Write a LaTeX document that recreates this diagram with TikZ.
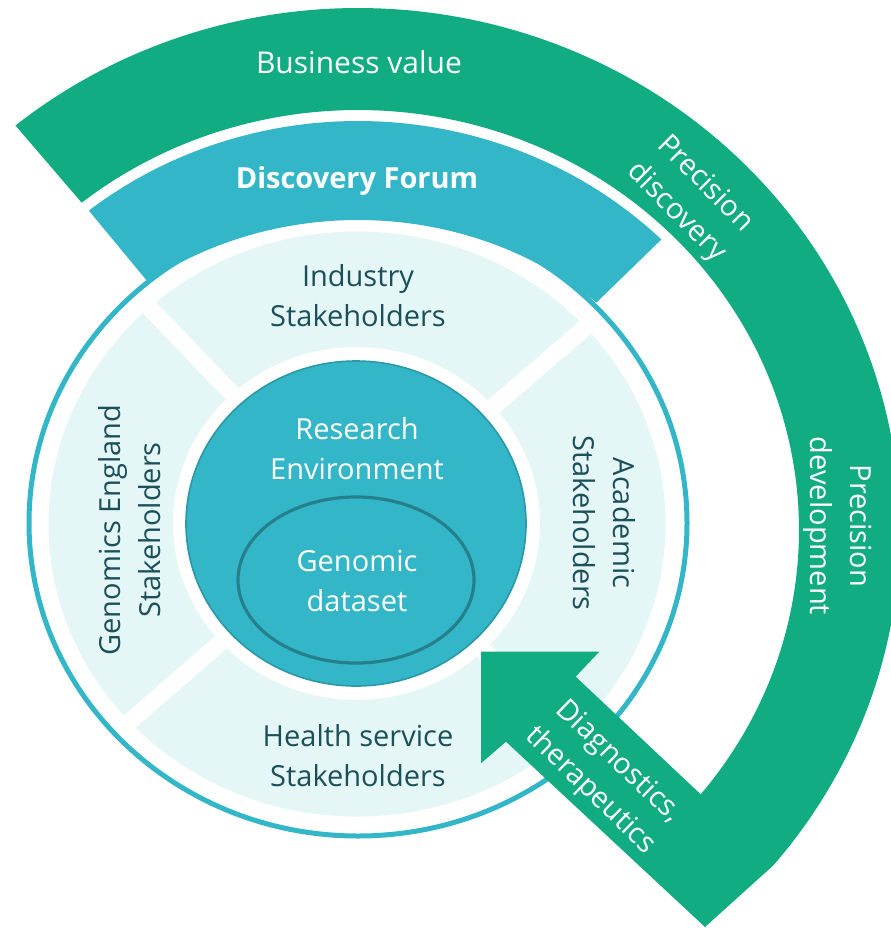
\documentclass[tikz,border=0pt]{standalone}
\usepackage{fontspec}
\setmainfont{Open Sans}
\usetikzlibrary{calc}

\definecolor{gegreen}{RGB}{17,172,130}
\definecolor{gecyan}{RGB}{51,182,199}
\definecolor{gelight}{RGB}{229,246,247}
\definecolor{gedark}{RGB}{27,80,90}
\definecolor{gerim}{RGB}{38,128,140}

\begin{document}
\begin{tikzpicture}[x=0.75pt,y=-0.75pt,
  lbl/.style={font=\fontsize{21.75}{30}\selectfont, align=center, inner sep=0pt},
  darklbl/.style={lbl, text=gedark},
  lightlbl/.style={lbl, text=white},
  gap/.style={white, line width=12.75pt},
]
\useasboundingbox (0,0) rectangle (891,928);
\fill[white] (0,0) rectangle (891,928);

\coordinate (C) at (357,524);

% light stakeholder ring
\fill[gelight, even odd rule]
  (357,524) ellipse [x radius=308.5, y radius=292.5]
  (356.5,523.5) ellipse [x radius=183.5, y radius=176.5];

% white gaps between the four stakeholder sectors
\begin{scope}
  \clip (357,524) ellipse [x radius=312, y radius=296];
  \draw[gap] (C) -- ++(-133.8:400);
  \draw[gap] (C) -- ++(-40.7:400);
  \draw[gap] (C) -- ++(-221:400);
  \draw[gap] (C) -- ++(-315:400);
\end{scope}

% outer thin ring
\draw[gecyan, line width=3.75pt] (358,523) ellipse [x radius=329, y radius=313];

% research environment and genomic dataset
\filldraw[fill=gecyan, draw=gerim!55!gecyan, line width=1.2pt]
  (356,523.5) ellipse [x radius=170, y radius=162.5];
\filldraw[fill=gecyan, draw=gerim, line width=2.4pt]
  (356,580) ellipse [x radius=118, y radius=83];

% Discovery Forum band
\fill[gecyan]
  plot[domain=-128.65:-45.26, samples=100] ({358+431*cos(\x)},{530+409*sin(\x)})
  -- plot[domain=-47.2:-126.8, samples=100] ({358+351*cos(\x)},{530+310*sin(\x)})
  -- cycle;

% green arc ending in the arrow
\fill[gegreen]
  plot[domain=-129.2:40, samples=160] ({358+542*cos(\x)},{530+522*sin(\x)})
  -- (705,927) -- (506,741.7) -- (481,763.3) -- (481,651.7) -- (599.3,651.7)
  -- (575.7,676.7)
  -- plot[domain=39:-128.8, samples=160] ({358+441*cos(\x)},{530+420*sin(\x)})
  -- cycle;

% labels
\node[lightlbl, font=\fontsize{22.5}{30}\selectfont, anchor=base] (business) at (359,73) {Business value};
\node[lightlbl, font=\bfseries\fontsize{21.75}{30}\selectfont, anchor=base] (forum) at (357,188) {Discovery Forum};
\node[darklbl] (industry) at (358,296) {Industry\\Stakeholders};
\node[lightlbl] (research) at (357,449) {Research\\Environment};
\node[lightlbl] (genomic) at (357,581) {Genomic\\dataset};
\node[darklbl] (health) at (358,756) {Health service\\Stakeholders};
\node[darklbl, rotate=90] (gel) at (130,530) {Genomics England\\Stakeholders};
\node[darklbl, rotate=-90] (academic) at (604,523) {Academic\\Stakeholders};
\node[lightlbl, rotate=-90] (pdev) at (838,526) {Precision\\development};
\node[lightlbl, rotate=-45] (pdisc) at (690.5,198.5) {Precision\\discovery};
\node[lightlbl, rotate=-44] (diag) at (604,776.5) {Diagnostics,\\therapeutics};
\end{tikzpicture}
\end{document}
